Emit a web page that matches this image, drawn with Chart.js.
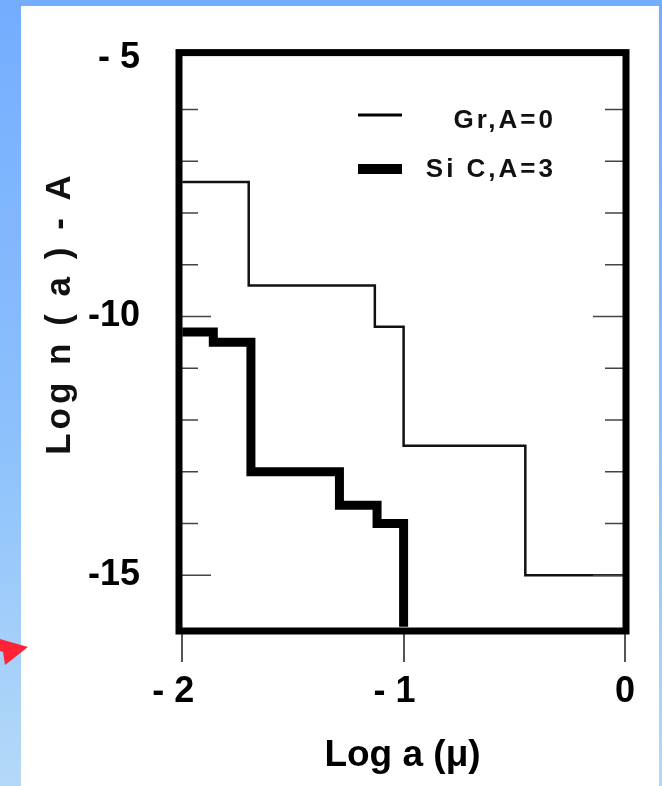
<!DOCTYPE html>
<html>
<head>
<meta charset="utf-8">
<script src="https://cdn.jsdelivr.net/npm/chart.js@4.4.1/dist/chart.umd.min.js"></script>
<style>
  html, body { margin: 0; padding: 0; }
  body {
    width: 662px; height: 786px; overflow: hidden; position: relative;
    background: linear-gradient(to bottom, #74adfe 0%, #8cc1fc 55%, #b4d9f8 100%);
  }
  #panel { position: absolute; left: 21px; top: 6px; width: 638px; height: 780px; background: #fff; }
  #wrap { position: absolute; left: 0; top: 0; width: 662px; height: 786px; }
  #arrow { position: absolute; left: 0; top: 630px; }
</style>
</head>
<body>
<div id="panel"></div>
<div id="wrap"><canvas id="chart" width="662" height="786"></canvas></div>
<svg id="arrow" width="40" height="45"><polygon points="0,9 28,17 5,35 3,22 0,21" fill="#ff2435"/></svg>
<script>
// Step edges (log a in microns, log n(a) - A)
const grX = [-2, -1.70, -1.13, -1.0, -0.45, 0];
const grY = [-7.4, -9.4, -10.2, -12.5, -15.0, -15.0];
const sicX = [-2, -1.86, -1.69, -1.29, -1.12, -1.0];
const sicY = [-10.3, -10.5, -13.0, -13.65, -14.0, -16.0];

const seriesNames = ['Gr,A=0', 'Si C,A=3'];
const xTicks = [-2, -1, 0];
const yTicks = [-15, -10, -5];
const yMinorTicks = [-15, -14, -13, -12, -11, -10, -9, -8, -7, -6];

const FONT = '"Liberation Sans", Arial, sans-serif';

// box, inner ticks, legend and y title
const framePlugin = {
    id: 'frame',
    afterDatasetsDraw(chart) {
        const ctx = chart.ctx;
        const a = chart.chartArea;
        const y = chart.scales.y;
        ctx.save();

        ctx.strokeStyle = '#444';
        ctx.lineWidth = 1.5;
        yMinorTicks.forEach(v => {
            const py = y.getPixelForValue(v);
            const major = v % 5 === 0;
            ctx.beginPath();
            ctx.moveTo(a.left, py);
            ctx.lineTo(a.left + (major ? 32 : 19), py);
            ctx.moveTo(a.right, py);
            ctx.lineTo(a.right - (major ? 33 : 21), py);
            ctx.stroke();
        });

        ctx.strokeStyle = '#000';
        ctx.lineWidth = 7;
        ctx.strokeRect(a.left, a.top, a.right - a.left, a.bottom - a.top);

        // legend
        ctx.lineCap = 'butt';
        ctx.lineWidth = 3;
        ctx.beginPath(); ctx.moveTo(358, 115); ctx.lineTo(402, 115); ctx.stroke();
        ctx.lineWidth = 10;
        ctx.beginPath(); ctx.moveTo(358, 169); ctx.lineTo(402, 169); ctx.stroke();

        ctx.fillStyle = '#111';
        ctx.font = 'bold 26px ' + FONT;
        ctx.letterSpacing = '3px';
        ctx.textAlign = 'right';
        ctx.textBaseline = 'middle';
        ctx.fillText(seriesNames[0], 556, 121);
        ctx.fillText(seriesNames[1], 556, 170);

        // y axis title
        ctx.font = 'bold 35px ' + FONT;
        ctx.letterSpacing = '4px';
        ctx.textAlign = 'center';
        ctx.translate(60, 313);
        ctx.rotate(-Math.PI / 2);
        ctx.fillText('Log n ( a ) - A', 0, 0);
        ctx.restore();
    }
};

const ctx = document.getElementById('chart').getContext('2d');
new Chart(ctx, {
    type: 'line',
    data: {
        datasets: [{
            label: seriesNames[0],
            data: grX.map((x, i) => ({ x: x, y: grY[i] })),
            borderColor: '#111',
            borderWidth: 2.5,
            stepped: 'before',
            pointRadius: 0,
            fill: false
        }, {
            label: seriesNames[1],
            data: sicX.map((x, i) => ({ x: x, y: sicY[i] })),
            borderColor: '#000',
            borderWidth: 9,
            borderJoinStyle: 'miter',
            stepped: 'before',
            pointRadius: 0,
            fill: false
        }]
    },
    options: {
        responsive: false,
        animation: false,
        layout: { padding: { top: 45, right: 36, left: 0, bottom: 0 } },
        plugins: {
            legend: { display: false },
            tooltip: { enabled: false }
        },
        scales: {
            x: {
                type: 'linear',
                min: -2.015,
                max: 0.005,
                afterFit: s => { s.height = 155; },
                afterBuildTicks: s => { s.ticks = xTicks.map(v => ({ value: v })); },
                grid: { drawOnChartArea: false, drawTicks: true, tickLength: 31, color: '#555', lineWidth: 2 },
                border: { display: false },
                ticks: {
                    color: '#000',
                    font: { family: FONT, size: 36, weight: 'bold' },
                    padding: 8,
                    maxRotation: 0,
                    callback: v => v < 0 ? '- ' + Math.abs(v) + '\u2002' : String(v)
                },
                title: {
                    display: true,
                    text: 'Log a (\u03bc)',
                    color: '#000',
                    font: { family: FONT, size: 37, weight: 'bold' },
                    padding: { top: 0, bottom: 8 }
                }
            },
            y: {
                type: 'linear',
                min: -16.08,
                max: -4.9,
                afterFit: s => { s.width = 179; },
                afterBuildTicks: s => { s.ticks = yTicks.map(v => ({ value: v })); },
                grid: { display: false },
                border: { display: false },
                ticks: {
                    color: '#000',
                    font: { family: FONT, size: 36, weight: 'bold' },
                    padding: 31,
                    callback: v => v === -5 ? '- 5' : String(v)
                }
            }
        }
    },
    plugins: [framePlugin]
});
</script>
</body>
</html>
